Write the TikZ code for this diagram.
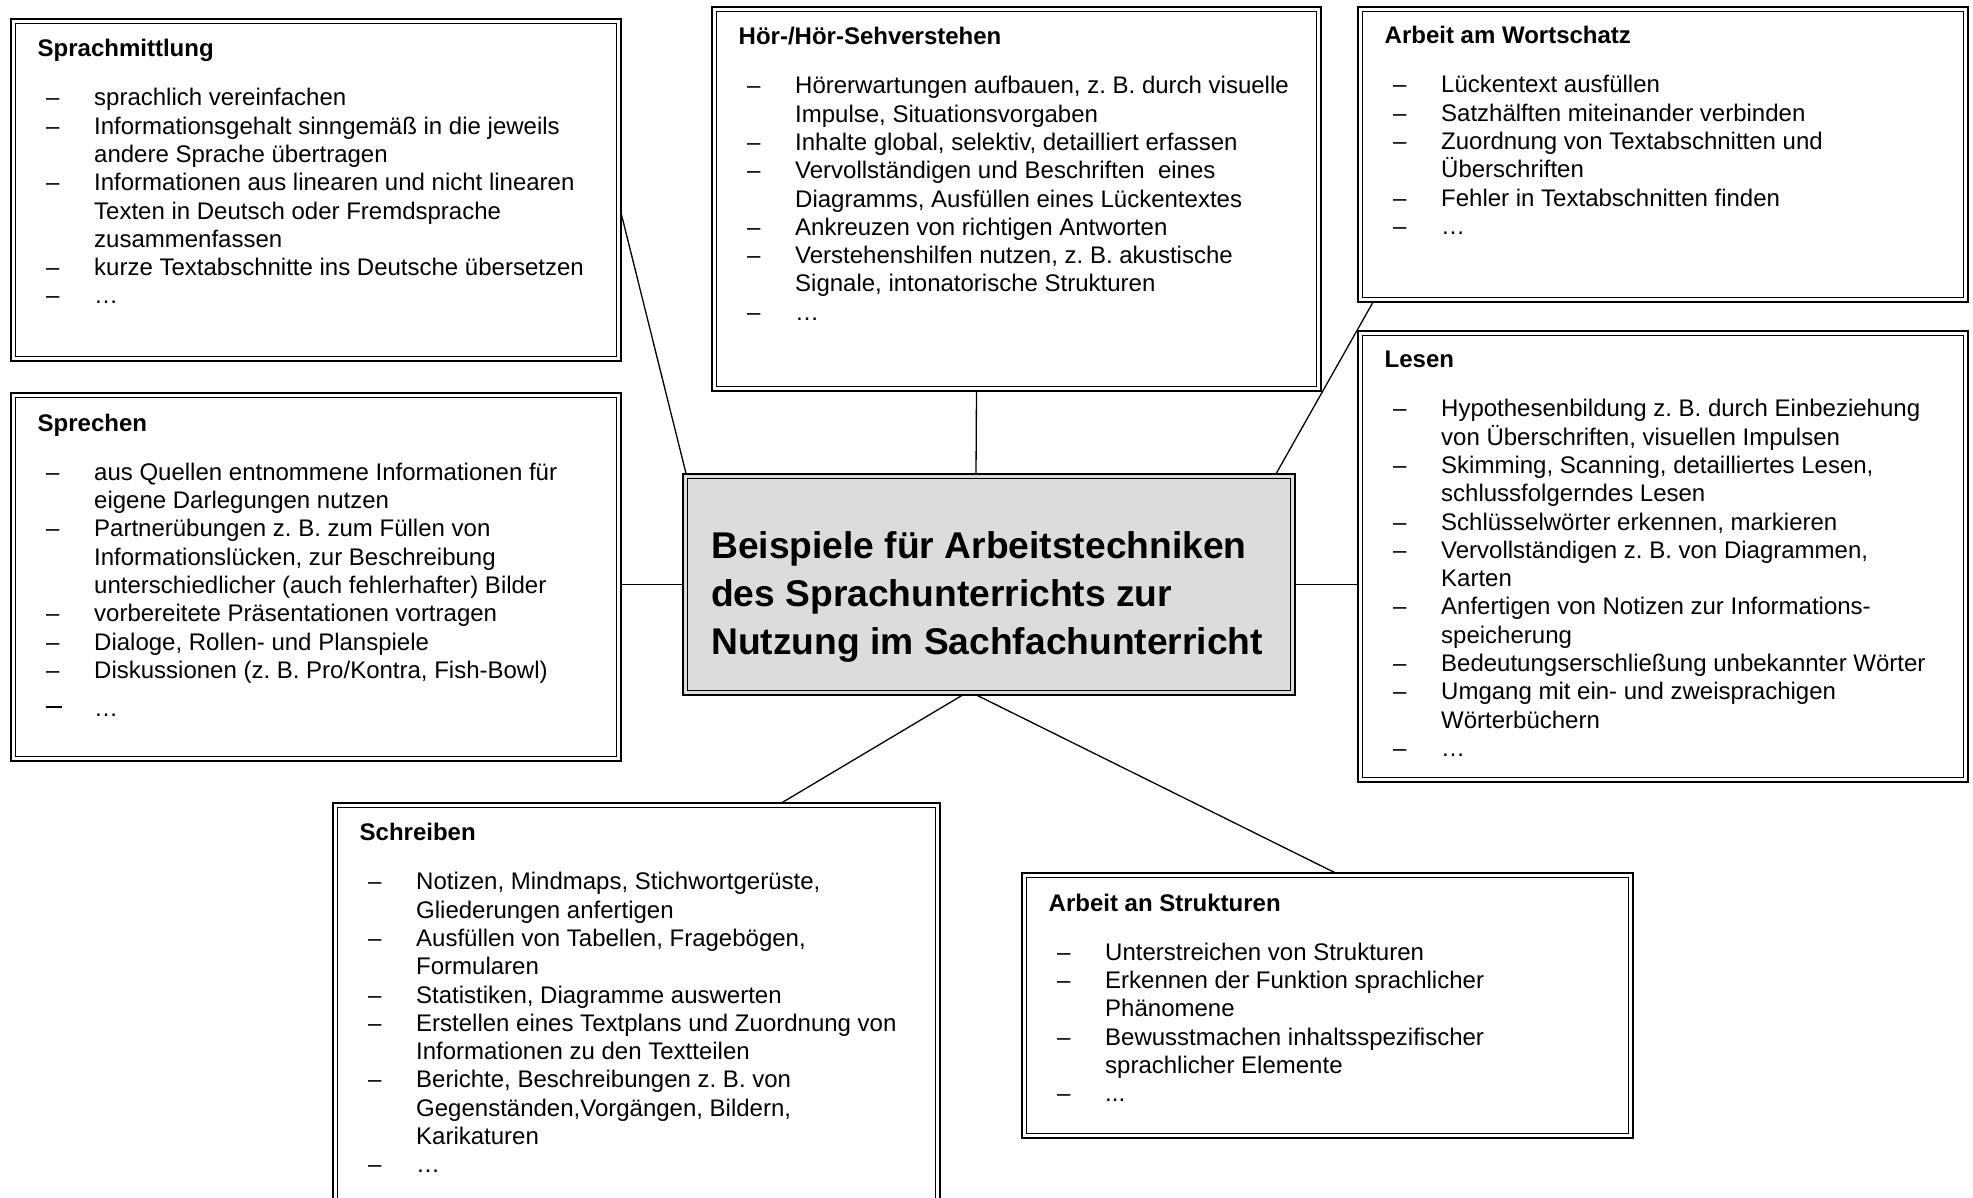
\documentclass[tikz,border=0pt]{standalone}
\usepackage{fontspec}
\setmainfont{Liberation Sans}
\definecolor{boxgray}{RGB}{220,220,220}
\tikzset{
  panel/.style={draw, line width=2.4pt, inner sep=0pt, outer sep=0pt, anchor=north west},
  panelinner/.style={line width=1.6pt},
  link/.style={line width=1.3pt},
  body/.style={anchor=base west, inner sep=0pt, font=\fontsize{24}{28.3}\selectfont},
  headline/.style={anchor=base west, inner sep=0pt, font=\fontsize{37.2}{48.4}\selectfont\bfseries},
}
% list helpers: dash entry and continuation line
\newcommand{\D}{\makebox[56.5pt][l]{\hspace{8.5pt}–}}
\newcommand{\C}{\makebox[56.5pt]{}}
\newcommand{\Dlong}{\makebox[56.5pt][l]{\hspace{8pt}\raisebox{8.5pt}{\rule{16pt}{2.2pt}}}}
% double-framed panel: name, x1, y1, x2, y2, fill
\newcommand{\panelbox}[6]{%
  \node[panel, fill=#6, minimum width={#4-#2-2.4}, minimum height={#5-#3-2.4}] (#1) at ({#2+1.2},{#3+1.2}) {};
  \draw[panelinner] ([shift={(4.3pt,-4.3pt)}]#1.north west) rectangle ([shift={(-4.3pt,4.3pt)}]#1.south east);
}
\newcommand{\listbox}[1]{\parbox[t]{620pt}{\raggedright\frenchspacing #1}}
\begin{document}
\begin{tikzpicture}[x=1pt,y=-1pt]
\fill[white] (0,0) rectangle (1973,1197);
\useasboundingbox (0,0) rectangle (1973,1197);
\clip (0,0) rectangle (1973,1197);

\panelbox{sm}{10}{18}{622}{362}{white}
\panelbox{sp}{10}{392}{622}{762}{white}
\panelbox{hor}{711}{6}{1322}{392}{white}
\panelbox{ws}{1357}{6}{1969}{303}{white}
\panelbox{le}{1357}{330}{1969}{783}{white}
\panelbox{ctr}{682}{473}{1296}{696}{boxgray}
\panelbox{sch}{332}{802}{941}{1225}{white}
\panelbox{str}{1021}{872}{1634}{1139}{white}

% centre caption
\node[headline] (ctr-t) at (711,558) {\parbox[t]{600pt}{\raggedright
Beispiele für Arbeitstechniken\\
des Sprachunterrichts zur\\
Nutzung im Sachfachunterricht}};

\node[body] (sm-t) at (37.5,56.5) {\listbox{%
{\bfseries Sprachmittlung}\\[21pt]
\D sprachlich vereinfachen\\
\D Informationsgehalt sinngemäß in die jeweils\\
\C andere Sprache übertragen\\
\D Informationen aus linearen und nicht linearen\\
\C Texten in Deutsch oder Fremdsprache\\
\C zusammenfassen\\
\D kurze Textabschnitte ins Deutsche übersetzen\\
\D …}};

\node[body] (hor-t) at (738.5,44.5) {\listbox{%
{\bfseries Hör-/Hör-Sehverstehen}\\[21pt]
\D Hörerwartungen aufbauen, z. B. durch visuelle\\
\C Impulse, Situationsvorgaben\\
\D Inhalte global, selektiv, detailliert erfassen\\
\D Vervollständigen und Beschriften\ \ eines\\
\C Diagramms, Ausfüllen eines Lückentextes\\
\D Ankreuzen von richtigen Antworten\\
\D Verstehenshilfen nutzen, z. B. akustische\\
\C Signale, intonatorische Strukturen\\
\D …}};

\node[body] (ws-t) at (1384.5,43.5) {\listbox{%
{\bfseries Arbeit am Wortschatz}\\[21pt]
\D Lückentext ausfüllen\\
\D Satzhälften miteinander verbinden\\
\D Zuordnung von Textabschnitten und\\
\C Überschriften\\
\D Fehler in Textabschnitten finden\\
\D …}};

\node[body] (le-t) at (1384.5,367.5) {\listbox{%
{\bfseries Lesen}\\[21pt]
\D Hypothesenbildung z. B. durch Einbeziehung\\
\C von Überschriften, visuellen Impulsen\\
\D Skimming, Scanning, detailliertes Lesen,\\
\C schlussfolgerndes Lesen\\
\D Schlüsselwörter erkennen, markieren\\
\D Vervollständigen z. B. von Diagrammen,\\
\C Karten\\
\D Anfertigen von Notizen zur Informations-\\
\C speicherung\\
\D Bedeutungserschließung unbekannter Wörter\\
\D Umgang mit ein- und zweisprachigen\\
\C Wörterbüchern\\
\D …}};

\node[body] (sp-t) at (37.5,431) {\listbox{%
{\bfseries Sprechen}\\[21pt]
\D aus Quellen entnommene Informationen für\\
\C eigene Darlegungen nutzen\\
\D Partnerübungen z. B. zum Füllen von\\
\C Informationslücken, zur Beschreibung\\
\C unterschiedlicher (auch fehlerhafter) Bilder\\
\D vorbereitete Präsentationen vortragen\\
\D Dialoge, Rollen- und Planspiele\\
\D Diskussionen (z. B. Pro/Kontra, Fish-Bowl)\\[10pt]
\Dlong …}};

\node[body] (sch-t) at (359.5,840.5) {\listbox{%
{\bfseries Schreiben}\\[21pt]
\D Notizen, Mindmaps, Stichwortgerüste,\\
\C Gliederungen anfertigen\\
\D Ausfüllen von Tabellen, Fragebögen,\\
\C Formularen\\
\D Statistiken, Diagramme auswerten\\
\D Erstellen eines Textplans und Zuordnung von\\
\C Informationen zu den Textteilen\\
\D Berichte, Beschreibungen z. B. von\\
\C Gegenständen,Vorgängen, Bildern,\\
\C Karikaturen\\
\D …}};

\node[body] (str-t) at (1048.5,911) {\listbox{%
{\bfseries Arbeit an Strukturen}\\[21pt]
\D Unterstreichen von Strukturen\\
\D Erkennen der Funktion sprachlicher\\
\C Phänomene\\
\D Bewusstmachen inhaltsspezifischer\\
\C sprachlicher Elemente\\
\D ...}};

% connectors to the central panel
\draw[link] ([yshift=-22pt]sm.east) -- ([xshift=3pt]ctr.north west);
\draw[link] ([xshift=-40pt]hor.south) -- ([xshift=-13pt]ctr.north);
\draw[link] ([xshift=15pt]ws.south west) -- ([xshift=-19pt]ctr.north east);
\draw[link] (sp.east |- ctr.west) -- (ctr.west);
\draw[link] (ctr.east) -- (ctr.east -| le.west);
\draw[link] ([xshift=-26pt]ctr.south) -- ([xshift=144.5pt]sch.north);
\draw[link] ([xshift=-13pt]ctr.south) -- ([xshift=8.5pt]str.north);
\end{tikzpicture}
\end{document}
